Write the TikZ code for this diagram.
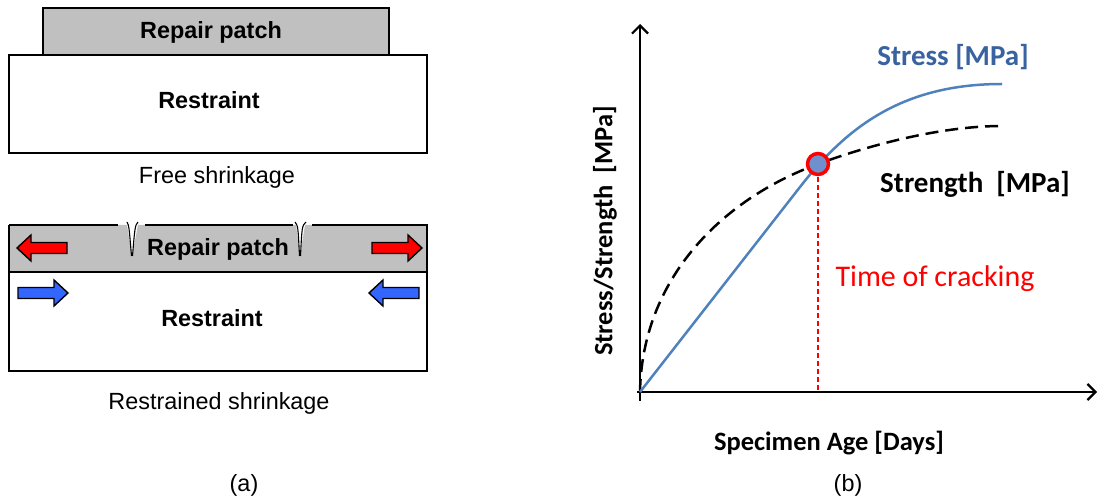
\documentclass[tikz,border=0pt]{standalone}
\usepackage{fontspec}
\setmainfont{Liberation Sans}
\newfontfamily\calib{Carlito}
\usetikzlibrary{arrows.meta}
\definecolor{patchgray}{RGB}{192,192,192}
\definecolor{pushblue}{RGB}{51,102,255}
\definecolor{stressblue}{RGB}{79,129,189}
\definecolor{stresstext}{RGB}{56,98,160}
\definecolor{dotfill}{RGB}{110,145,205}
\tikzset{
  panelbox/.style={draw=black, line width=1.7pt, inner sep=0pt},
  edge/.style={line width=1.7pt},
  lbl/.style={font=\fontsize{23.4}{26}\selectfont, inner sep=0pt},
  lblbold/.style={font=\fontsize{23.4}{26}\selectfont\bfseries, inner sep=0pt},
  blockarrow/.pic={
    \path[pic actions] (0,-5.5) -- (36,-5.5) -- (36,-13) -- (50,0) -- (36,13)
      -- (36,5.5) -- (0,5.5) -- cycle;
  },
  redarrow/.style={fill=red, draw=black, line width=1.4pt},
  bluearrow/.style={fill=pushblue, draw=black, line width=1.4pt},
  axis/.style={line width=2.2pt, -{Straight Barb[length=8pt,width=16pt,line width=2.2pt]}},
  chartlbl/.style={font=\fontsize{26.5}{30}\selectfont\calib\bfseries, inner sep=0pt},
}
\begin{document}
\begin{tikzpicture}[x=1pt,y=-1pt]
\useasboundingbox (0,0) rectangle (1098,502);

% ---- free shrinkage ----
\node[panelbox, fill=patchgray, minimum width=346pt, minimum height=47pt] (patchA) at (216,31.5) {};
\node[panelbox, fill=white, minimum width=418pt, minimum height=98pt] (baseA) at (218,104) {};
\node[lblbold] (patchAtxt) at (211,32) {Repair patch};
\node[lblbold] (baseAtxt) at (209,100) {Restraint};
\node[lbl] (freeTxt) at (217,177) {Free shrinkage};

% ---- restrained shrinkage ----
\node[panelbox, fill=white, minimum width=418pt, minimum height=99pt] (baseB) at (218,321.5) {};
\fill[patchgray] (9,225) -- (127,225) -- (132,256) -- (138,225) -- (296,225)
  -- (300,256) -- (305,225) -- (427,225) -- (427,272) -- (9,272) -- cycle;
\draw[edge] (9,225) -- (118,225);
\draw[edge] (145,225) -- (293,225);
\draw[edge] (312,225) -- (427,225) -- (427,272) -- (9,272) -- (9,225);
% shrinkage cracks
\draw[line width=1.1pt] (127,222) .. controls (129,226) .. (131.5,256);
\draw[line width=1.1pt] (138,222) .. controls (135,226) .. (132.5,256);
\draw[line width=1.1pt] (295,222) .. controls (298,226) .. (299.5,256);
\draw[line width=1.1pt] (306,222) .. controls (302,226) .. (300.5,256);
\node[lblbold] (patchBtxt) at (218,249) {Repair patch};
\node[lblbold] (baseBtxt) at (212,318) {Restraint};
\node[lbl] (restrTxt) at (219,403) {Restrained shrinkage};

\pic[redarrow, xscale=-1] at (67,248) {blockarrow};
\pic[redarrow] at (372,248) {blockarrow};
\pic[bluearrow] at (18,293) {blockarrow};
\pic[bluearrow, xscale=-1] at (419,293) {blockarrow};

\node[lbl] (capA) at (244,485) {(a)};

% ---- stress / strength chart ----
\coordinate (origin) at (640,392);
\coordinate (ytop) at (640,24);
\coordinate (xend) at (1097,392);
\coordinate (crack) at (818,164);
\draw[axis] (640,401) -- (ytop);
\draw[axis] (637,392) -- (xend);

% strength (dashed) and stress (solid) curves
\draw[line width=2.5pt, dash pattern=on 13pt off 7pt]
  (origin) .. controls (642,280) and (720,200) .. (crack)
  .. controls (868,145.6) and (940,126) .. (1002,126);
\draw[stressblue, line width=2.5pt]
  (origin) -- (800,187) .. controls (845,129.4) and (900,84) .. (1002,84);

\draw[red, line width=2.5pt, dash pattern=on 5pt off 3pt] (818,177) -- (818,392);
\node[circle, draw=red, line width=3.5pt, fill=dotfill, minimum size=21pt, inner sep=0pt] (crackdot) at (crack) {};

\node[chartlbl, font=\fontsize{29}{32}\selectfont\calib\bfseries, text=stresstext] (stressLbl) at (953,57) {Stress [MPa]};
\node[chartlbl, font=\fontsize{29}{32}\selectfont\calib\bfseries] (strengthLbl) at (975,184) {Strength\ \ [MPa]};
\node[inner sep=0pt, font=\fontsize{30}{33}\selectfont\calib, text=red] (crackLbl) at (935,279) {Time of cracking};
\node[chartlbl, rotate=90] (yLbl) at (605,231) {Stress/Strength\ \ [MPa]};
\node[chartlbl] (xLbl) at (829,443) {Specimen Age [Days]};
\node[lbl] (capB) at (848,485) {(b)};
\end{tikzpicture}
\end{document}
